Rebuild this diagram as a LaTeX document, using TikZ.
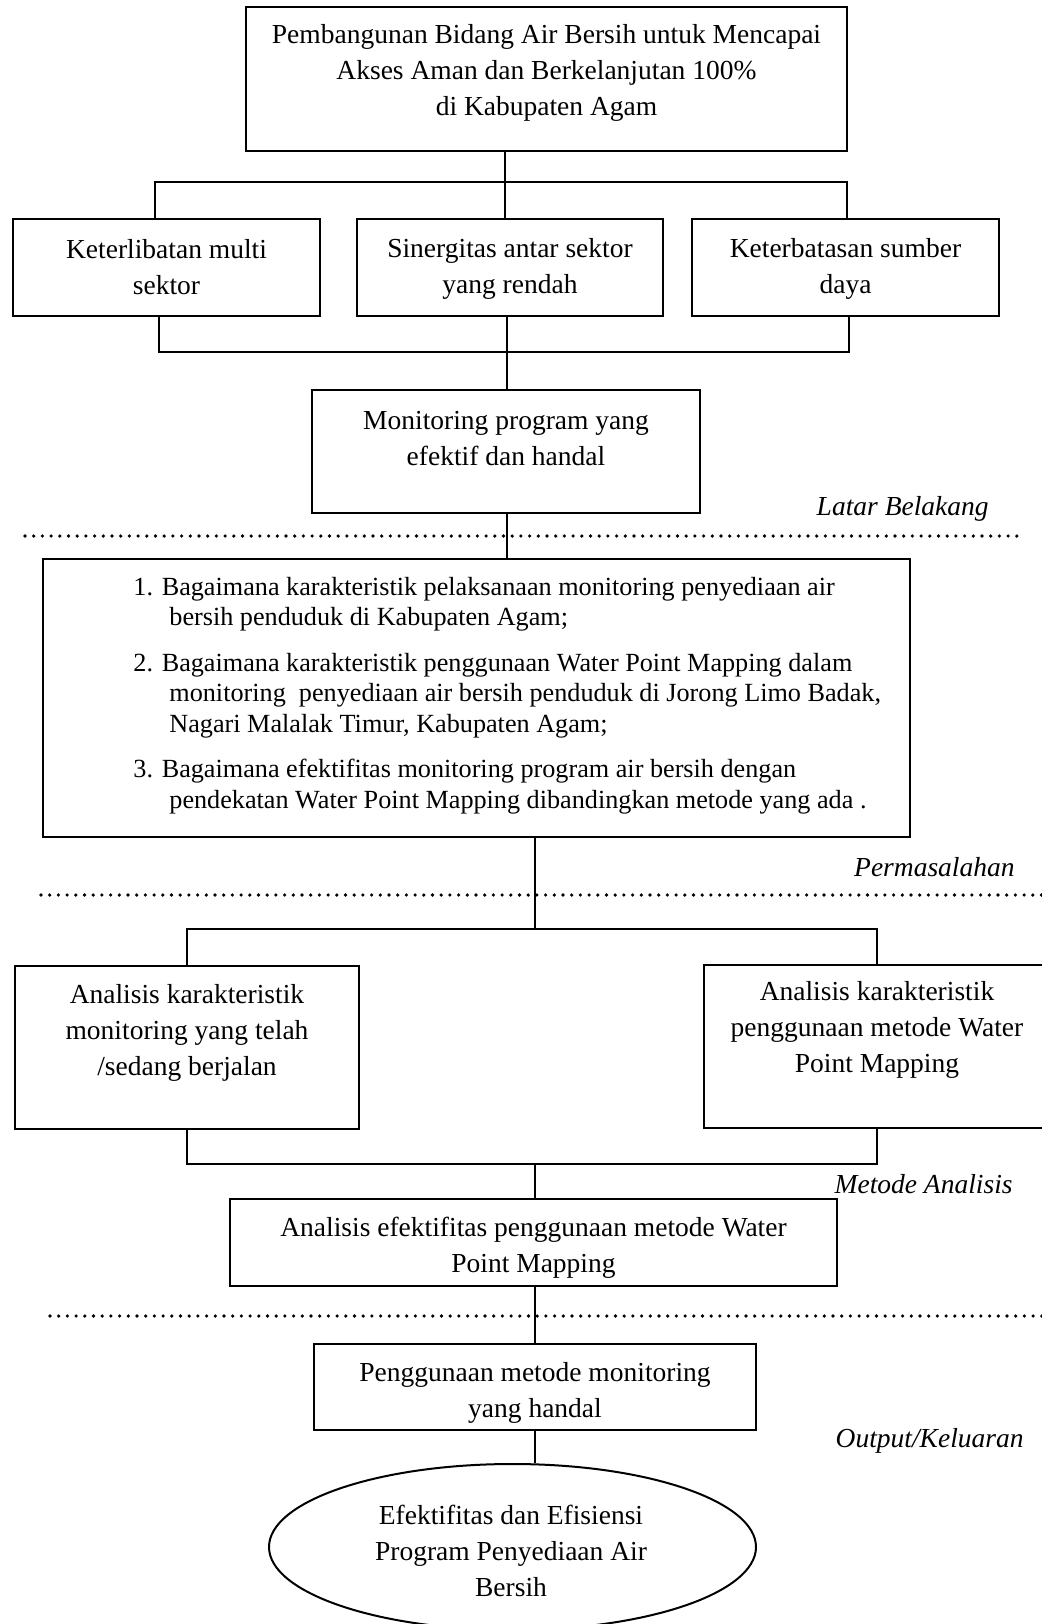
\documentclass[tikz,border=0pt]{standalone}
\usepackage{fontspec}
\setmainfont{Liberation Serif}
\usetikzlibrary{shapes.geometric}
\begin{document}
\begin{tikzpicture}[x=0.5pt,y=-0.5pt,
  box/.style={draw, line width=1pt, rectangle, inner sep=0pt},
  txt/.style={inner sep=0pt, align=center, font=\fontsize{13.75}{18}\selectfont},
  ptxt/.style={inner sep=0pt, align=left, font=\fontsize{13.1}{15.25}\selectfont},
  lab/.style={inner sep=0pt, font=\fontsize{13.75}{18}\selectfont\itshape},
  conn/.style={line width=0.7pt},
  sep/.style={line width=1.8pt, line cap=round, dash pattern=on 0pt off 4.35pt}]
\useasboundingbox (0,0) rectangle (1041,1624);
% boxes
\node[box, minimum width=300.5pt, minimum height=72pt] (top) at (546.5,79) {};
\node[txt] (topt) at (546.5,73) {Pembangunan Bidang Air Bersih untuk Mencapai\\Akses Aman dan Berkelanjutan 100\%\\di Kabupaten Agam};
\node[box, minimum width=153.5pt, minimum height=48.5pt] (b1) at (166.5,267.5) {};
\node[txt] (b1t) at (166.5,267) {Keterlibatan multi\\sektor};
\node[box, minimum width=153pt, minimum height=48.5pt] (b2) at (510,267.5) {};
\node[txt] (b2t) at (510,268.5) {Sinergitas antar sektor\\yang rendah};
\node[box, minimum width=153.5pt, minimum height=48.5pt] (b3) at (845.5,267.5) {};
\node[txt] (b3t) at (845.5,268.5) {Keterbatasan sumber\\daya};
\node[box, minimum width=194pt, minimum height=61.5pt] (mon) at (506,451.5) {};
\node[txt] (mont) at (506,438.5) {Monitoring program yang\\efektif dan handal};
\node[box, minimum width=433.5pt, minimum height=139pt] (prob) at (476.5,698) {};
\node[ptxt, anchor=north west] (probt) at (133,576.5) {1. Bagaimana karakteristik pelaksanaan monitoring penyediaan air\\
\hspace*{18pt}bersih penduduk di Kabupaten Agam;\\[7.5pt]
2. Bagaimana karakteristik penggunaan Water Point Mapping dalam\\
\hspace*{18pt}monitoring\ \ penyediaan air bersih penduduk di Jorong Limo Badak,\\
\hspace*{18pt}Nagari Malalak Timur, Kabupaten Agam;\\[7.5pt]
3. Bagaimana efektifitas monitoring program air bersih dengan\\
\hspace*{18pt}pendekatan Water Point Mapping dibandingkan metode yang ada .};
\node[box, minimum width=172pt, minimum height=81.5pt] (aL) at (187,1047.5) {};
\node[txt] (aLt) at (187,1033) {Analisis karakteristik\\monitoring yang telah\\/sedang berjalan};
\node[box, minimum width=173pt, minimum height=81.5pt] (aR) at (877,1046.5) {};
\node[txt] (aRt) at (877,1030) {Analisis karakteristik\\penggunaan metode Water\\Point Mapping};
\node[box, minimum width=303.5pt, minimum height=43.5pt] (eff) at (533.5,1242.5) {};
\node[txt] (efft) at (533.5,1247.5) {Analisis efektifitas penggunaan metode Water\\Point Mapping};
\node[box, minimum width=221pt, minimum height=43pt] (pen) at (535,1387) {};
\node[txt] (pent) at (535,1392.5) {Penggunaan metode monitoring\\yang handal};
\node[draw, line width=1pt, ellipse, inner sep=0pt, minimum width=243.5pt, minimum height=83pt] (ell) at (512.5,1547) {};
\node[txt] (ellt) at (511,1550.5) {Efektifitas dan Efisiensi\\Program Penyediaan Air\\Bersih};
% section labels
\node[lab, anchor=east] (l1) at (989,509) {Latar Belakang};
\node[lab, anchor=east] (l2) at (1015,867) {Permasalahan};
\node[lab, anchor=east] (l3) at (1013,1184) {Metode Analisis};
\node[lab, anchor=east] (l4) at (1024,1441) {Output/Keluaran};
% separators
\draw[sep] (25,536) -- (1019,536);
\draw[sep] (41,895) -- (1045,895);
\draw[sep] (50,1316) -- (1045,1316);
% junctions
\coordinate (j1) at (505,182);
\coordinate (j1L) at (155,182);
\coordinate (j1R) at (847,182);
\coordinate (j2) at (507,352);
\coordinate (j2L) at (159,352);
\coordinate (j2R) at (849,352);
\coordinate (j3) at (535,929);
\coordinate (j3L) at (187,929);
\coordinate (j3R) at (877,929);
\coordinate (j4) at (535,1164);
\coordinate (j4L) at (187,1164);
\coordinate (j4R) at (877,1164);
% connectors
\draw[conn] (j1 |- top.south) -- (j1 |- b2.north);
\draw[conn] (j1L |- b1.north) -- (j1L) -- (j1R) -- (j1R |- b3.north);
\draw[conn] (j2L |- b1.south) -- (j2L) -- (j2R) -- (j2R |- b3.south);
\draw[conn] (j2 |- b2.south) -- (j2 |- mon.north);
\draw[conn] (j2 |- mon.south) -- (j2 |- prob.north);
\draw[conn] (j3 |- prob.south) -- (j3);
\draw[conn] (j3L |- aL.north) -- (j3L) -- (j3R) -- (j3R |- aR.north);
\draw[conn] (j4L |- aL.south) -- (j4L) -- (j4R) -- (j4R |- aR.south);
\draw[conn] (j4) -- (j4 |- eff.north);
\draw[conn] (j4 |- eff.south) -- (j4 |- pen.north);
\draw[conn] (j4 |- pen.south) -- (j4 |- ell.north);
\end{tikzpicture}
\end{document}
